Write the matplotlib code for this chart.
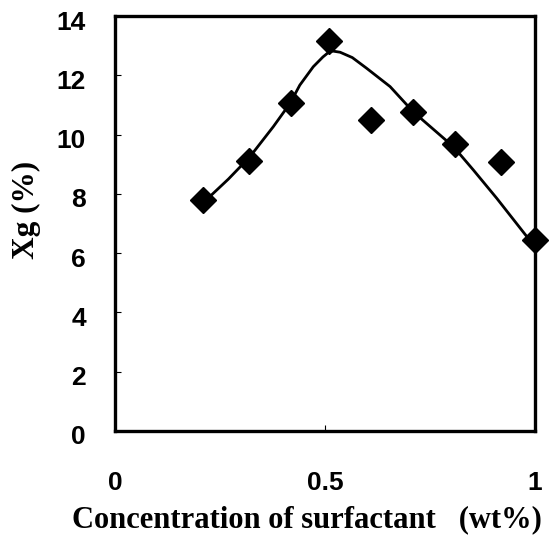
import matplotlib.pyplot as plt
from matplotlib.transforms import ScaledTranslation

# measured points (diamonds)
conc = [0.21, 0.32, 0.42, 0.51, 0.61, 0.71, 0.81, 0.92, 1.0]
xg = [7.8, 9.1, 11.05, 13.15, 10.5, 10.75, 9.67, 9.08, 6.44]

# hand-drawn trend curve
curve_x = [0.225, 0.27, 0.321, 0.377, 0.417, 0.440, 0.472, 0.495, 0.507, 0.518,
           0.536, 0.565, 0.599, 0.655, 0.710, 0.806, 0.853, 0.909, 0.996]
curve_y = [7.9, 8.5, 9.25, 10.27, 11.06, 11.67, 12.29, 12.62, 12.76, 12.82,
           12.78, 12.6, 12.24, 11.62, 10.77, 9.59, 8.81, 7.85, 6.28]

x_ticks = [0, 0.5, 1]
y_ticks = [0, 2, 4, 6, 8, 10, 12, 14]

fig = plt.figure(figsize=(5.57, 5.36), dpi=100)
ax = fig.add_axes([0.2065, 0.196, 0.754, 0.774])

ax.plot(curve_x, curve_y, color="black", linewidth=2.0, zorder=2)
ax.plot(conc, xg, linestyle="none", marker="D", markersize=13,
        color="black", zorder=3, clip_on=False)

ax.set_xlim(0, 1)
ax.set_ylim(0, 14)
ax.set_xticks(x_ticks)
ax.set_xticklabels(["0", "0.5", "1"])
ax.set_yticks(y_ticks)

for s in ax.spines.values():
    s.set_linewidth(2.4)

ax.tick_params(axis="both", direction="in", length=4, width=0.8)
ax.tick_params(axis="x", pad=28.5)
ax.tick_params(axis="y", pad=21)
for lab in ax.get_xticklabels() + ax.get_yticklabels():
    lab.set_fontfamily("Liberation Sans")
    lab.set_fontweight("bold")
    lab.set_fontsize(19)
# the y labels in the scan sit a few pixels low
shift = ScaledTranslation(0, -0.04, fig.dpi_scale_trans)
for lab in ax.get_yticklabels():
    lab.set_transform(lab.get_transform() + shift)

fig.text(307 / 557, 9 / 536, "Concentration of surfactant   (wt%)",
         fontfamily="Liberation Serif", fontweight="bold", fontsize=22,
         ha="center", va="baseline")
fig.text(26 / 557, 1 - 210 / 536, "Xg (%)", rotation=90,
         fontfamily="Liberation Serif", fontweight="bold", fontsize=22.5,
         ha="center", va="center")

fig.savefig("out.png", dpi=100)
